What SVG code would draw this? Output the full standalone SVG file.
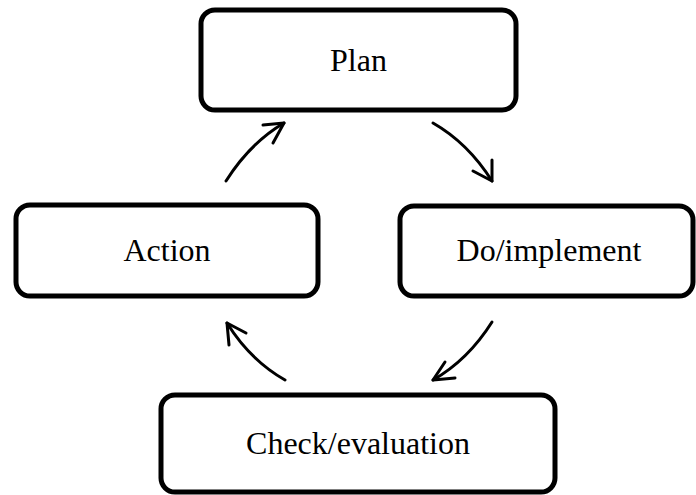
<svg xmlns="http://www.w3.org/2000/svg" width="696" height="495" viewBox="0 0 696 495">
<style>
.box{fill:#fff;stroke:#000;stroke-width:5}
.lbl{font-family:"Liberation Serif","Times New Roman",serif;font-size:32px;fill:#000;text-anchor:middle}
.arr{fill:none;stroke:#000;stroke-width:3;stroke-linecap:round;stroke-linejoin:round}
</style>
<rect width="696" height="495" fill="#fff"/>
<g id="plan"><rect class="box" x="201" y="10" width="315" height="100" rx="14"/><text class="lbl" x="358.5" y="70.5">Plan</text></g>
<g id="do"><rect class="box" x="400" y="206" width="293" height="90" rx="14"/><text class="lbl" x="549" y="261">Do/implement</text></g>
<g id="check"><rect class="box" x="161" y="395" width="394" height="97" rx="14"/><text class="lbl" x="358" y="454">Check/evaluation</text></g>
<g id="action"><rect class="box" x="16" y="205" width="302" height="91" rx="14"/><text class="lbl" x="167" y="261">Action</text></g>
<g id="connectors">
<path class="arr" d="M226,181 Q250,143 284,123"/><path class="arr" d="M263,125 L284,123 L273,143"/>
<path class="arr" d="M433,123 Q468,143 492,181"/><path class="arr" d="M473,171 L492,181 L492,160"/>
<path class="arr" d="M492,322 Q468,360 433,380"/><path class="arr" d="M455,378 L433,380 L445,362"/>
<path class="arr" d="M285,380 Q250,360 227,323"/><path class="arr" d="M246,333 L227,323 L229,345"/>
</g>
</svg>
